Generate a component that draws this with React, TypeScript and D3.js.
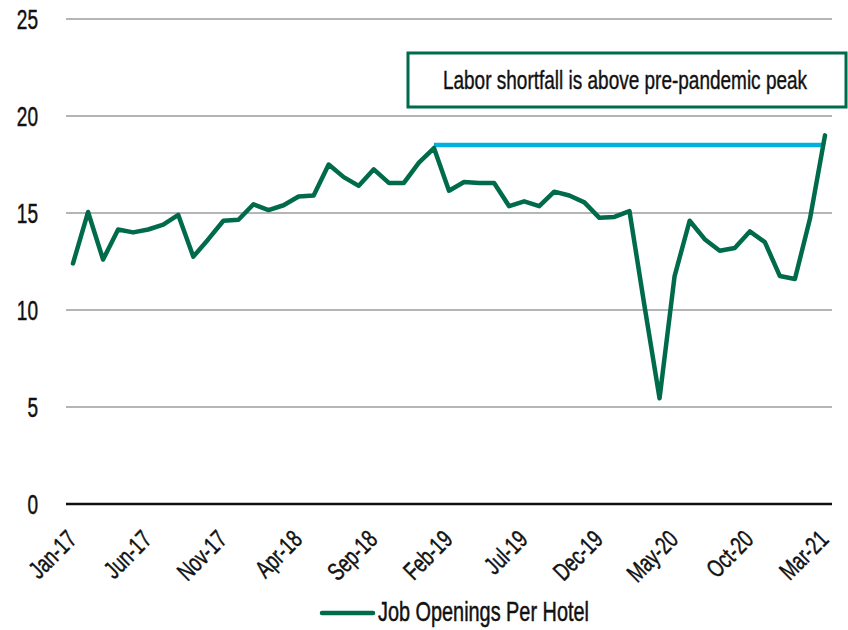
import React from "react";
import * as d3 from "d3";

const months: string[] = (() => {
  const names = ["Jan","Feb","Mar","Apr","May","Jun","Jul","Aug","Sep","Oct","Nov","Dec"];
  const out: string[] = [];
  for (let y = 17; y <= 21; y++) for (const m of names) out.push(`${m}-${y}`);
  return out.slice(0, 51);
})();

const jobOpeningsPerHotel: number[] = [
  12.4, 15.05, 12.6, 14.15, 14.0, 14.15, 14.4, 14.9, 12.75, 13.65,
  14.6, 14.65, 15.45, 15.15, 15.4, 15.85, 15.9, 17.5, 16.85, 16.4,
  17.25, 16.55, 16.55, 17.6, 18.35, 16.15, 16.6, 16.55, 16.55, 15.35,
  15.6, 15.35, 16.1, 15.9, 15.55, 14.75, 14.8, 15.1, 10.2, 5.45,
  11.75, 14.6, 13.65, 13.05, 13.2, 14.05, 13.5, 11.75, 11.6, 14.7,
  19.0,
];

const tickLabels: string[] = ["Jan-17","Jun-17","Nov-17","Apr-18","Sep-18","Feb-19","Jul-19","Dec-19","May-20","Oct-20","Mar-21"];
const yTicks: number[] = [0, 5, 10, 15, 20, 25];
const peakStart = "Jan-19";
const peakLevel = 18.5;
const annotation = "Labor shortfall is above pre-pandemic peak";
const legendLabel = "Job Openings Per Hotel";

const GREEN = "#006B4A";
const BLUE = "#00B0DF";
const FONT = "'Liberation Sans', Arial, sans-serif";

export default function App() {
  const W = 848, H = 630;
  const x = d3.scalePoint<string>().domain(months).range([73, 825]);
  const y = d3.scaleLinear().domain([0, 25]).range([504, 19]);
  const line = d3.line<number>().x((_, i) => x(months[i])!).y((d) => y(d));
  const textProps = { fill: "#111", stroke: "#111", strokeWidth: 0.5 };

  return (
    <svg width={W} height={H} style={{ position: "absolute", left: 0, top: 0, background: "#fff" }} fontFamily={FONT}>
      {yTicks.filter((t) => t > 0).map((t) => (
        <line key={t} x1={66} x2={832} y1={y(t)} y2={y(t)} stroke="#9a9c9e" strokeWidth={1.4} />
      ))}
      <line x1={66} x2={832} y1={y(0)} y2={y(0)} stroke="#111" strokeWidth={2.5} />
      {yTicks.map((t) => (
        <g key={t} transform={`translate(38,${y(t) + 9.5}) scale(0.68,1)`}>
          <text textAnchor="end" fontSize={28} {...textProps}>{t}</text>
        </g>
      ))}
      {tickLabels.map((l) => (
        <g key={l} transform={`translate(${x(l)! + 5},541) rotate(-45) scale(0.72,1)`}>
          <text textAnchor="end" fontSize={25} {...textProps}>{l}</text>
        </g>
      ))}
      <line x1={x(peakStart)} x2={x(months[months.length - 1])} y1={y(peakLevel)} y2={y(peakLevel)} stroke={BLUE} strokeWidth={4.5} />
      <path d={line(jobOpeningsPerHotel)!} fill="none" stroke={GREEN} strokeWidth={4.5} strokeLinejoin="round" strokeLinecap="round" />
      <rect x={408} y={53} width={438} height={54} fill="#fff" stroke={GREEN} strokeWidth={3} />
      <g transform="translate(625,89) scale(0.76,1)">
        <text textAnchor="middle" fontSize={25} {...textProps} strokeWidth={0.4}>{annotation}</text>
      </g>
      <line x1={322} x2={373} y1={613} y2={613} stroke={GREEN} strokeWidth={4.5} strokeLinecap="round" />
      <g transform="translate(378,621) scale(0.71,1)">
        <text fontSize={28} {...textProps}>{legendLabel}</text>
      </g>
    </svg>
  );
}
